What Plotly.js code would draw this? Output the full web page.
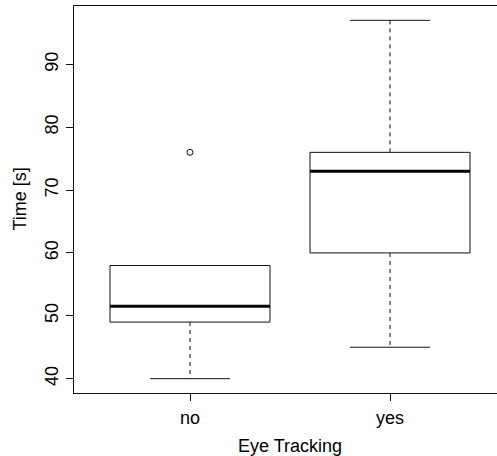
<!DOCTYPE html>
<html>
<head>
<meta charset="utf-8">
<script src="https://cdn.plot.ly/plotly-3.0.1.min.js"></script>
<style>html,body{margin:0;padding:0;background:#fff;}#chart{width:497px;height:456px;}</style>
</head>
<body>
<div id="chart"></div>
<script>
// Data
const groups = ['no', 'yes'];
const positions = [1, 2];
const lowerWhisker = [40, 45];
const q1 = [49, 60];
const median = [51.5, 73];
const q3 = [58, 76];
const upperWhisker = [58, 97];
const outlierGroup = ['no'];
const outlierValue = [76];

const halfBox = 0.4;
const halfCap = 0.2;
const ink = '#111';
const traces = [];

groups.forEach((g, i) => {
  const p = positions[i];
  // box
  traces.push({type: 'scatter', mode: 'lines', hoverinfo: 'skip', showlegend: false,
    x: [p - halfBox, p + halfBox, p + halfBox, p - halfBox, p - halfBox],
    y: [q1[i], q1[i], q3[i], q3[i], q1[i]],
    line: {color: ink, width: 1}});
  // whiskers (dashed)
  traces.push({type: 'scatter', mode: 'lines', hoverinfo: 'skip', showlegend: false,
    x: [p, p, null, p, p],
    y: [q3[i], upperWhisker[i], null, q1[i], lowerWhisker[i]],
    line: {color: ink, width: 1, dash: '4px,4px'}});
  // caps
  traces.push({type: 'scatter', mode: 'lines', hoverinfo: 'skip', showlegend: false,
    x: [p - halfCap, p + halfCap, null, p - halfCap, p + halfCap],
    y: [upperWhisker[i], upperWhisker[i], null, lowerWhisker[i], lowerWhisker[i]],
    line: {color: ink, width: 1}});
  // median
  traces.push({type: 'scatter', mode: 'lines', hoverinfo: 'skip', showlegend: false,
    x: [p - halfBox, p + halfBox],
    y: [median[i], median[i]],
    line: {color: '#000', width: 3}});
});

// outliers
traces.push({type: 'scatter', mode: 'markers', showlegend: false,
  x: outlierGroup.map(g => positions[groups.indexOf(g)]),
  y: outlierValue,
  marker: {symbol: 'circle-open', size: 6, color: ink, line: {width: 1, color: ink}}});

const font = {family: '"Liberation Sans", Arial, Helvetica, sans-serif', size: 18, color: '#000'};

const layout = {
  width: 497, height: 456,
  margin: {l: 74, r: 0, t: 6, b: 63, pad: 0},
  paper_bgcolor: '#fff', plot_bgcolor: '#fff',
  font: font,
  showlegend: false,
  xaxis: {
    range: [0.42, 2.535],
    tickvals: positions, ticktext: groups,
    ticks: 'outside', ticklen: 7, tickwidth: 1, tickcolor: ink,
    showline: true, linecolor: ink, linewidth: 1, mirror: true,
    showgrid: false, zeroline: false,
    ticklabelstandoff: 1,
    tickfont: font
  },
  yaxis: {
    range: [37.72, 99.28],
    tickvals: [40, 50, 60, 70, 80, 90],
    ticks: 'outside', ticklen: 7, tickwidth: 1, tickcolor: ink,
    tickangle: -90,
    showline: true, linecolor: ink, linewidth: 1, mirror: false,
    showgrid: false, zeroline: false,
    ticklabelstandoff: 1,
    tickfont: font
  },
  annotations: [
    {text: 'Eye Tracking', xref: 'x', x: 1.5, yref: 'paper', y: 0,
     xanchor: 'center', yanchor: 'middle', yshift: -53, showarrow: false, font: font},
    {text: 'Time [s]', xref: 'paper', x: 0, xshift: -55, yref: 'paper', y: 0.5,
     xanchor: 'center', yanchor: 'middle', textangle: -90, showarrow: false, font: font}
  ]
};

Plotly.newPlot('chart', traces, layout, {staticPlot: true, displayModeBar: false});
</script>
</body>
</html>
